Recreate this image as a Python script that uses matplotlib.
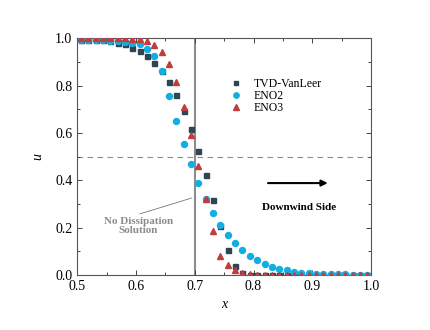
import numpy as np
import matplotlib
matplotlib.use("Agg")
import matplotlib.pyplot as plt
from matplotlib.ticker import MultipleLocator

plt.rcParams['font.family'] = ['Liberation Serif', 'DejaVu Serif']

# cell centres shown on 0.5 .. 1.0 (dx = 0.0125)
x_cells = np.linspace(0.50625, 0.99375, 40)

u_tvd = [0.993, 0.993, 0.992, 0.991, 0.989, 0.982, 0.974, 0.960, 0.945, 0.926,
         0.897, 0.860, 0.817, 0.762, 0.694, 0.615, 0.524, 0.422, 0.315, 0.205,
         0.106, 0.036, 0.007, 0.001, 0.0, 0.0, 0.0, 0.0, 0.0, 0.0,
         0.0, 0.0, 0.0, 0.0, 0.0, 0.0, 0.0, 0.0, 0.0, 0.0]

u_eno2 = [0.993, 0.993, 0.993, 0.993, 0.990, 0.989, 0.985, 0.982, 0.974, 0.956,
          0.927, 0.861, 0.756, 0.651, 0.555, 0.467, 0.390, 0.322, 0.261, 0.211,
          0.169, 0.136, 0.105, 0.081, 0.062, 0.047, 0.035, 0.026, 0.020, 0.014,
          0.010, 0.007, 0.005, 0.004, 0.003, 0.002, 0.002, 0.001, 0.001, 0.001]

u_eno3 = [1.0, 1.0, 1.0, 1.0, 1.0, 1.0, 1.0, 0.998, 0.995, 0.990,
          0.972, 0.943, 0.892, 0.814, 0.711, 0.592, 0.461, 0.322, 0.184, 0.078,
          0.042, 0.019, 0.008, 0.003, 0.001, 0.0, 0.0, 0.0, 0.0, 0.0,
          0.0, 0.0, 0.0, 0.0, 0.0, 0.0, 0.0, 0.0, 0.0, 0.0]

labels = ["TVD-VanLeer", "ENO2", "ENO3"]

fig = plt.figure(figsize=(4.31, 3.30), dpi=100)
ax = fig.add_axes([0.179, 0.167, 0.682, 0.717])

# reference lines
ax.axvline(0.7, color='#8c8c8c', lw=1.5, zorder=1)
ax.axhline(0.5, color='#8c8c8c', lw=0.8, ls=(0, (5, 4)), zorder=1)

ax.plot(x_cells, u_tvd, 's', color='#2d4652', ms=3.6, label=labels[0], zorder=3)
ax.plot(x_cells, u_eno2, 'o', color='#12aee2', ms=4.3, label=labels[1], zorder=4)
ax.plot(x_cells, u_eno3, '^', color='#c23b3e', ms=4.5, label=labels[2], zorder=5)

ax.set_xlim(0.5, 1.0)
ax.set_ylim(0.0, 1.0)
ax.xaxis.set_major_locator(MultipleLocator(0.1))
ax.xaxis.set_minor_locator(MultipleLocator(0.05))
ax.yaxis.set_major_locator(MultipleLocator(0.2))
ax.yaxis.set_minor_locator(MultipleLocator(0.1))
ax.tick_params(which='both', direction='in', top=True, right=True,
               labelsize=10, color='#444444', width=0.7)
ax.tick_params(which='major', length=3.5)
ax.tick_params(which='minor', length=2)
for sp in ax.spines.values():
    sp.set_color('#555555')
    sp.set_linewidth(0.8)

ax.set_xlabel('x', style='italic', fontsize=10, labelpad=4)
ax.set_ylabel('u', style='italic', fontsize=10, labelpad=8)

ax.legend(loc='upper left', bbox_to_anchor=(0.5, 0.85), frameon=False,
          fontsize=8.5, labelspacing=0.0, handletextpad=0.9, handlelength=1.2,
          borderaxespad=0, markerscale=0.9)

# annotations
ax.text(0.604, 0.205, 'No Dissipation\nSolution', ha='center', va='center',
        color='#8c8c8c', fontweight='bold', fontsize=8, linespacing=1.0)
ax.plot([0.607, 0.695], [0.258, 0.325], color='#777777', lw=0.6, zorder=2)

ax.annotate('', xy=(0.931, 0.388), xytext=(0.82, 0.388),
            arrowprops=dict(arrowstyle='-|>', color='black', lw=1.5,
                            mutation_scale=9))
ax.text(0.877, 0.283, 'Downwind Side', ha='center', va='center',
        fontweight='bold', fontsize=8)

fig.savefig('out.png', dpi=100)
